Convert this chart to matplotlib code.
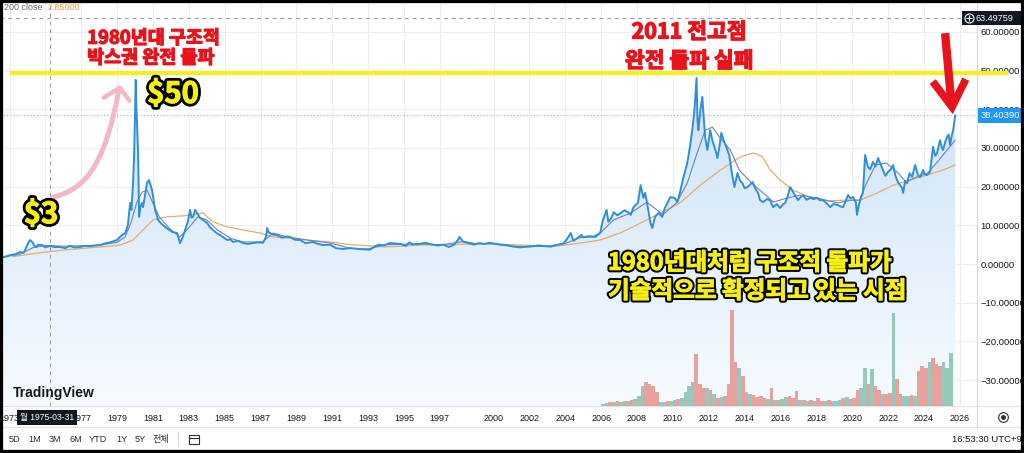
import numpy as np
import matplotlib.pyplot as plt
import matplotlib.patheffects as pe
from matplotlib.patches import Rectangle, Polygon, PathPatch
from matplotlib.path import Path
from matplotlib.colors import LinearSegmentedColormap

plt.rcParams['font.family'] = ['Liberation Sans', 'Noto Sans CJK KR', 'DejaVu Sans']
KR = ['Noto Sans CJK KR', 'DejaVu Sans']

# silver close (year, USD)
price_year = [1972.47, 1972.8, 1973.03, 1973.3, 1973.59, 1973.8, 1974.04, 1974.15, 1974.26, 1974.4,
              1974.48, 1974.6, 1974.82, 1975.0, 1975.26, 1975.5, 1975.82, 1976.1, 1976.38, 1976.6,
              1976.94, 1977.2, 1977.49, 1977.8, 1978.05, 1978.3, 1978.61, 1978.8, 1979.0, 1979.25,
              1979.45, 1979.6, 1979.73, 1979.8, 1979.89, 1979.95, 1980.04, 1980.08, 1980.12, 1980.17,
              1980.23, 1980.3, 1980.39, 1980.45, 1980.55, 1980.67, 1980.78, 1980.95, 1981.05, 1981.12,
              1981.29, 1981.45, 1981.68, 1981.85, 1982.07, 1982.35, 1982.51, 1982.65, 1982.79, 1982.95,
              1983.07, 1983.15, 1983.24, 1983.35, 1983.46, 1983.63, 1983.8, 1984.02, 1984.2, 1984.35,
              1984.55, 1984.74, 1984.95, 1985.14, 1985.3, 1985.47, 1985.75, 1986.03, 1986.3, 1986.58,
              1986.85, 1987.14, 1987.3, 1987.37, 1987.45, 1987.53, 1987.7, 1987.92, 1988.2, 1988.45,
              1988.65, 1988.9, 1989.21, 1989.5, 1989.93, 1990.2, 1990.5, 1990.88, 1991.2, 1991.6,
              1992.0, 1992.4, 1992.8, 1993.1, 1993.4, 1993.6, 1993.9, 1994.2, 1994.5, 1994.8,
              1995.1, 1995.3, 1995.5, 1995.9, 1996.2, 1996.5, 1996.9, 1997.2, 1997.5, 1997.8,
              1998.0, 1998.1, 1998.3, 1998.6, 1998.9, 1999.2, 1999.5, 1999.8, 2000.1, 2000.4,
              2000.8, 2001.1, 2001.5, 2001.9, 2002.2, 2002.5, 2002.9, 2003.2, 2003.5, 2003.9,
              2004.1, 2004.3, 2004.45, 2004.7, 2004.9, 2005.0, 2005.3, 2005.66, 2005.94, 2006.1,
              2006.3, 2006.4, 2006.55, 2006.7, 2006.9, 2007.1, 2007.3, 2007.5, 2007.65, 2007.8,
              2008.05, 2008.2, 2008.35, 2008.45, 2008.55, 2008.75, 2008.85, 2009.0, 2009.2, 2009.4,
              2009.55, 2009.7, 2009.85, 2010.1, 2010.25, 2010.4, 2010.55, 2010.8, 2010.95, 2011.1,
              2011.2, 2011.32, 2011.37, 2011.42, 2011.53, 2011.64, 2011.7, 2011.8, 2011.92, 2012.08,
              2012.2, 2012.3, 2012.42, 2012.48, 2012.6, 2012.7, 2012.87, 2013.04, 2013.15, 2013.26,
              2013.43, 2013.6, 2013.75, 2013.88, 2014.0, 2014.16, 2014.3, 2014.44, 2014.6, 2014.75,
              2014.86, 2015.03, 2015.25, 2015.42, 2015.59, 2015.8, 2015.98, 2016.1, 2016.26, 2016.4,
              2016.54, 2016.7, 2016.85, 2016.98, 2017.1, 2017.26, 2017.45, 2017.65, 2017.85, 2018.04,
              2018.2, 2018.38, 2018.6, 2018.77, 2018.95, 2019.16, 2019.35, 2019.49, 2019.65, 2019.77,
              2019.9, 2020.05, 2020.2, 2020.27, 2020.35, 2020.44, 2020.6, 2020.72, 2020.88, 2021.0,
              2021.16, 2021.3, 2021.44, 2021.6, 2021.72, 2021.85, 2022.0, 2022.15, 2022.28, 2022.4,
              2022.5, 2022.65, 2022.78, 2022.84, 2022.95, 2023.06, 2023.2, 2023.34, 2023.51, 2023.67,
              2023.8, 2023.95, 2024.05, 2024.18, 2024.34, 2024.51, 2024.62, 2024.73, 2024.9, 2025.0,
              2025.07, 2025.18, 2025.29, 2025.38, 2025.46, 2025.55, 2025.63, 2025.74]
price = [1.7, 1.9, 2.3, 2.5, 3.1, 2.9, 5.4, 6.2, 5.7, 4.7,
         4.4, 5.0, 4.9, 4.3, 4.7, 4.4, 4.4, 4.1, 4.7, 4.3,
         4.4, 4.7, 4.6, 4.8, 4.9, 5.3, 5.6, 5.9, 6.2, 7.4,
         8.0, 10.0, 15.8, 14.0, 20.9, 28.0, 47.6, 40.0, 35.4, 28.7,
         12.2, 14.8, 15.8, 14.7, 17.5, 21.0, 21.7, 19.1, 16.0, 14.0,
         11.4, 10.5, 9.6, 9.0, 8.3, 8.0, 5.4, 6.8, 8.8, 11.0,
         14.0, 12.0, 12.2, 14.0, 13.2, 11.9, 11.4, 10.6, 9.4, 8.8,
         8.0, 7.5, 6.8, 6.2, 6.4, 5.7, 6.0, 5.4, 5.2, 5.4,
         5.6, 5.5, 7.0, 9.3, 8.2, 8.0, 7.6, 7.5, 6.8, 7.1,
         7.0, 6.3, 6.2, 5.4, 5.7, 5.2, 4.9, 5.0, 4.1, 3.9,
         4.1, 3.9, 3.8, 3.7, 4.6, 5.0, 4.8, 5.4, 5.3, 5.2,
         4.7, 5.6, 5.1, 5.2, 5.5, 5.1, 4.8, 5.0, 4.4, 5.0,
         6.2, 7.0, 5.8, 5.4, 5.0, 5.4, 5.2, 5.5, 5.2, 5.0,
         4.8, 4.5, 4.3, 4.5, 4.6, 4.8, 4.6, 4.5, 4.9, 5.3,
         6.5, 8.0, 6.0, 6.8, 7.5, 6.9, 7.2, 7.0, 8.0, 11.4,
         14.0, 10.9, 11.8, 13.4, 12.6, 13.2, 13.9, 13.4, 12.7, 14.7,
         15.8, 20.4, 17.1, 18.4, 16.0, 10.6, 9.3, 12.2, 13.2, 12.2,
         14.5, 15.8, 17.3, 17.1, 16.0, 18.6, 21.7, 26.1, 30.3, 35.4,
         39.8, 48.1, 37.2, 34.6, 39.8, 43.2, 39.0, 32.8, 29.5, 34.6,
         32.0, 30.5, 28.7, 27.4, 30.5, 33.9, 31.5, 29.5, 28.0, 24.3,
         19.9, 23.5, 21.5, 20.9, 19.6, 19.9, 20.5, 21.2, 19.5, 18.4,
         16.5, 16.0, 16.8, 16.5, 14.7, 15.5, 14.5, 15.2, 15.8, 17.5,
         19.9, 18.6, 17.5, 16.5, 17.2, 17.8, 16.6, 17.1, 16.8, 17.1,
         16.5, 16.5, 15.6, 14.7, 15.5, 15.3, 14.9, 14.7, 16.5, 17.8,
         17.0, 17.3, 16.0, 12.7, 14.8, 16.5, 18.5, 28.2, 25.1, 24.5,
         26.4, 25.2, 27.4, 25.6, 24.3, 22.8, 23.8, 24.5, 25.6, 23.0,
         21.7, 20.5, 19.7, 18.4, 21.5, 20.9, 23.5, 22.5, 25.6, 23.0,
         22.5, 24.3, 23.2, 23.0, 23.8, 30.3, 28.0, 28.7, 32.0, 30.0,
         29.5, 31.5, 32.8, 33.5, 30.8, 33.2, 34.6, 38.4]

# fast moving average (blue)
ma_year = [1972.47, 1973.5, 1974.3, 1975.0, 1976.0, 1977.0, 1978.05, 1979.0, 1979.45, 1979.8,
           1980.1, 1980.4, 1980.67, 1981.35, 1981.9, 1982.5, 1982.9, 1983.5, 1984.0, 1984.6,
           1985.3, 1986.0, 1987.1, 1987.7, 1988.5, 1989.6, 1990.9, 1992.0, 1993.0, 1994.0,
           1995.0, 1996.0, 1997.0, 1998.3, 1999.0, 2000.0, 2001.0, 2002.0, 2003.0, 2004.0,
           2004.8, 2005.5, 2005.94, 2006.7, 2007.65, 2008.55, 2009.1, 2009.43, 2010.2, 2010.8,
           2011.35, 2011.8, 2012.2, 2012.6, 2013.2, 2013.7, 2014.4, 2015.3, 2015.6, 2016.4,
           2017.1, 2018.0, 2019.2, 2019.9, 2020.4, 2020.8, 2021.3, 2021.9, 2022.5, 2023.0,
           2023.6, 2024.2, 2024.7, 2025.3, 2025.74]
ma = [1.8, 2.4, 4.2, 4.8, 4.6, 4.7, 4.9, 5.6, 7.0, 11.0,
      16.0, 18.6, 19.1, 12.2, 9.3, 7.0, 8.8, 12.2, 11.4, 8.8,
      6.7, 5.7, 5.7, 8.0, 7.0, 6.2, 5.4, 4.1, 3.9, 5.0,
      5.1, 5.2, 4.9, 5.8, 5.3, 5.2, 4.6, 4.5, 4.6, 5.3,
      6.8, 7.0, 8.0, 11.4, 13.2, 16.0, 14.0, 12.7, 15.8, 20.9,
      28.7, 34.6, 35.4, 32.8, 29.5, 24.3, 20.9, 17.3, 16.0, 17.1,
      17.8, 17.1, 15.8, 16.5, 16.5, 20.9, 25.6, 26.1, 23.8, 21.2,
      22.5, 23.5, 26.1, 29.5, 32.0]

# 200 close (orange)
ma200_year = [1973.2, 1974.5, 1976.0, 1977.5, 1978.6, 1979.17, 1979.89, 1980.45, 1981.0, 1981.8,
              1982.5, 1983.24, 1983.8, 1984.35, 1985.14, 1986.03, 1986.97, 1987.7, 1988.5, 1989.6,
              1990.9, 1992.0, 1994.0, 1996.0, 1998.0, 2000.0, 2002.0, 2003.5, 2004.82, 2005.94,
              2007.05, 2008.2, 2009.3, 2010.4, 2011.53, 2012.65, 2013.76, 2014.5, 2015.0, 2015.4,
              2015.98, 2016.7, 2017.65, 2018.6, 2019.5, 2020.44, 2021.4, 2022.3, 2023.2, 2024.18,
              2025.07, 2025.74]
ma200 = [1.9, 2.8, 3.6, 4.2, 4.6, 4.9, 6.2, 8.8, 11.4, 12.2,
         12.4, 12.7, 13.2, 10.9, 9.6, 8.8, 8.0, 7.0, 6.7, 6.2,
         5.7, 5.0, 4.4, 4.9, 5.1, 5.2, 4.8, 4.6, 5.4, 6.2,
         8.0, 10.6, 13.2, 15.8, 20.4, 24.3, 27.7, 28.7, 27.7, 24.5,
         21.7, 19.1, 17.3, 16.3, 16.5, 16.5, 18.4, 20.4, 21.7, 23.0,
         24.3, 25.6]

# volume, one bar every 0.2 year from 2006.1 (relative units)
vol_start, vol_step = 2006.1, 0.2
vol = [2, 3, 4, 4, 5,    4, 5, 5, 6, 7,      10, 20, 24, 22, 20,   14, 4, 4, 5, 5,
       6, 7, 8, 14, 20,  24, 52, 22, 18, 18, 16, 12, 8, 9, 10,    22, 96, 44, 38, 30,
       14, 12, 11, 9, 10, 8, 7, 18, 6, 6,    7, 9, 10, 8, 15,      6, 6, 5, 6, 5,
       8, 5, 5, 6, 5,    5, 6, 8, 9, 7,      8, 16, 18, 38, 22,    37, 20, 16, 12, 12,
       13, 93, 27, 12, 10, 10, 11, 10, 35, 40, 38, 44, 48, 42, 40,  44, 38, 53]
vol_dir = ("uudud" "ududu" "uuddd" "duudu" "uduuu" "udddu" "dudud" "dddud" "duddd" "dudud"
           "uuddd" "ududu" "ddudu" "uudud" "dduud" "uddud" "duddu" "ududd" "duddd" "uuu")

year_ticks = [1973, 1975, 1977, 1979, 1981, 1983, 1985, 1987, 1989, 1991, 1993, 1995, 1997,
              2000, 2002, 2004, 2006, 2008, 2010, 2012, 2014, 2016, 2018, 2020, 2022, 2024, 2026]
price_ticks = [-30, -20, -10, 0, 10, 20, 30, 40, 50, 60]
last_price = 38.40390
cross_price = 63.49759
cross_date = 1975.25
box_level = 49.4

W, H = 1024, 453
fig = plt.figure(figsize=(W / 100, H / 100), dpi=100)
fig.patch.set_facecolor('white')


def fx(px):
    return px / W


def fy(py):
    return 1 - py / H


x0, x1 = 1972.47, 2026.96
y0, y1 = -36.72, 68.27
rect = [0, fy(406), fx(977), 406 / H]

ax = fig.add_axes(rect)
ax.set_zorder(1)

# volume pane drawn over the price fill
vax = fig.add_axes(rect)
vax.set_zorder(2)
colors = ['#7fbcab' if d == 'u' else '#e48c86' for d in vol_dir]
vx = [vol_start + vol_step * i for i in range(len(vol))]
vax.bar(vx, vol, width=vol_step, color=colors, align='center', lw=0, alpha=0.8)
vax.set_xlim(x0, x1)
vax.set_ylim(0, 406)
vax.axis('off')

# gradient area under the price
cmap = LinearSegmentedColormap.from_list('fill', ['#f7fbff', '#cce2f6'])
img = ax.imshow(np.linspace(0, 1, 256).reshape(-1, 1), cmap=cmap, origin='lower',
                aspect='auto', extent=[x0, x1, y0, 48], zorder=1)
poly = Polygon(np.column_stack([[price_year[0]] + price_year + [price_year[-1]],
                                [y0] + price + [y0]]), closed=True, fc='none', ec='none')
ax.add_patch(poly)
img.set_clip_path(poly)

ax.plot(ma200_year, ma200, color='#e3ad6c', lw=0.9, zorder=3)
ax.plot(ma_year, ma, color='#6a82c6', lw=0.8, zorder=3)
ax.plot(price_year, price, color='#2e8fd8', lw=1.4, zorder=4)

ax.axhline(last_price, color='#7fb2e5', lw=0.8, ls=(0, (1, 2)), zorder=2)
ax.axhline(cross_price, color='#9598a1', lw=0.7, ls=(0, (4, 4)), zorder=2)
ax.axvline(cross_date, color='#9598a1', lw=0.7, ls=(0, (4, 4)), zorder=2)

ax.set_xlim(x0, x1)
ax.set_ylim(y0, y1)
ax.set_xticks(year_ticks)
# 1975 sits under the crosshair date tooltip
ax.set_xticklabels(['' if y == 1975 else str(y) for y in year_ticks])
ax.yaxis.tick_right()
ax.set_yticks(price_ticks)
ax.set_yticklabels([f'{v:.5f}'.replace('-', '\u2212') for v in price_ticks])
ax.tick_params(axis='y', length=0, pad=2.5, labelsize=6.8, labelcolor='#131722')
ax.tick_params(axis='x', length=0, pad=5.5, labelsize=6.5, labelcolor='#131722')
ax.grid(True, color='#eceef3', lw=0.8)
ax.set_axisbelow(True)
for s in ['left', 'top']:
    ax.spines[s].set_visible(False)
ax.spines['right'].set_color('#d6d9e0')
ax.spines['bottom'].set_color('#e0e3eb')
ax.spines['right'].set_linewidth(0.8)
ax.spines['bottom'].set_linewidth(0.8)

# yellow box-top line and annotations
ax.plot([1973.03, 2028.69], [box_level, box_level], color='#f7ef1b', lw=3.0,
        clip_on=False, zorder=6, solid_capstyle='butt')

red = '#e8131b'
thick_red = [pe.withStroke(linewidth=0.9, foreground=red)]
ax.text(1977.33, 58.4, '1980년대 구조적', family=KR, weight='bold', color=red,
        fontsize=13.3, ha='left', va='center', path_effects=thick_red, zorder=7)
ax.text(1977.33, 53.3, '박스권 완전 돌파', family=KR, weight='bold', color=red,
        fontsize=13.3, ha='left', va='center', path_effects=thick_red, zorder=7)
ax.text(2010.9, 60.0, '2011 전고점', family=KR, weight='bold', color=red,
        fontsize=15.5, ha='center', va='center', path_effects=thick_red, zorder=7)
ax.text(2010.9, 52.5, '완전 돌파 실패', family=KR, weight='bold', color=red,
        fontsize=15.5, ha='center', va='center', path_effects=thick_red, zorder=7)

yel = '#f5ef12'
outline = [pe.Stroke(linewidth=4.8, foreground='black'),
           pe.Stroke(linewidth=0.8, foreground=yel), pe.Normal()]
ax.text(1982.12, 44.0, '$50', family=KR, weight='bold', color=yel, fontsize=21,
        ha='center', va='center', path_effects=outline, zorder=7)
ax.text(1974.76, 12.9, '$3', family=KR, weight='bold', color=yel, fontsize=21,
        ha='center', va='center', path_effects=outline, zorder=7)
outline2 = [pe.Stroke(linewidth=3.6, foreground='black'),
            pe.Stroke(linewidth=0.7, foreground=yel), pe.Normal()]
ax.text(2006.38, 0.3, '1980년대처럼 구조적 돌파가', family=KR, weight='bold', color=yel,
        fontsize=17, ha='left', va='center', path_effects=outline2, zorder=7)
ax.text(2006.38, -7.0, '기술적으로 확정되고 있는 시점', family=KR, weight='bold', color=yel,
        fontsize=17, ha='left', va='center', path_effects=outline2, zorder=7)

# pink hand-drawn arrow
pink = '#f5b6c6'
curve = Path([(1975.43, 17.3), (1977.5, 19.5), (1978.4, 28.0), (1979.1, 45.0)],
             [Path.MOVETO, Path.CURVE4, Path.CURVE4, Path.CURVE4])
ax.add_patch(PathPatch(curve, fc='none', ec=pink, lw=3.6, capstyle='round', zorder=5))
ax.plot([1978.25, 1979.15, 1979.7], [43.0, 45.6, 42.2], color=pink, lw=3.2,
        solid_capstyle='round', solid_joinstyle='round', zorder=5)

# red arrow at the right
ax.plot([2025.18, 2025.51], [59.7, 42.6], color=red, lw=6.0, solid_capstyle='butt',
        clip_on=False, zorder=8)
ax.plot([2024.62, 2025.57, 2026.24], [46.4, 40.6, 46.9], color=red, lw=5.5,
        solid_joinstyle='miter', clip_on=False, zorder=8)

# right-axis value labels
ytr = ax.get_yaxis_transform()
ax.text(980.5 / 977, last_price, f'{last_price:.5f}', transform=ytr, color='white',
        fontsize=6.8, ha='left', va='center', clip_on=False, zorder=9,
        bbox=dict(boxstyle='square,pad=0.28', fc='#2196f3', ec='none'))
ax.add_patch(Rectangle((962 / 977, cross_price - 1.8), 59 / 977, 3.6, transform=ytr,
                       fc='#131722', ec='none', clip_on=False, zorder=9))
ax.plot([968.5 / 977], [cross_price], transform=ytr, marker='o', ms=6.5, mfc='none',
        mec='white', mew=0.8, clip_on=False, zorder=10)
ax.plot([968.5 / 977], [cross_price], transform=ytr, marker='+', ms=4, mec='white',
        mew=0.8, clip_on=False, zorder=10)
ax.text(976 / 977, cross_price, f'{cross_price:.5f}', transform=ytr, color='white',
        fontsize=6.6, ha='left', va='center', clip_on=False, zorder=10)

# top-left legend
fig.text(fx(4), fy(7), '200 close', color='#6a6d78', fontsize=6.5, va='center')
fig.text(fx(48), fy(7), '2.85000', color='#e8a33c', fontsize=6.5, va='center')

# frame lines of the widget
fig.add_artist(plt.Line2D([0, 1], [fy(406), fy(406)], color='#e0e3eb', lw=0.8))
fig.add_artist(plt.Line2D([0, 1], [fy(426.5), fy(426.5)], color='#e0e3eb', lw=0.8))
fig.add_artist(plt.Line2D([fx(977), fx(977)], [fy(406), fy(426.5)], color='#d6d9e0', lw=0.8))
fig.add_artist(plt.Line2D([fx(178), fx(178)], [fy(432), fy(446)], color='#d6d9e0', lw=0.8))

# crosshair date tooltip
fig.text(fx(20), fy(417.5), '월 1975-03-31', color='white', fontsize=6.2, va='center',
         bbox=dict(boxstyle='square,pad=0.35', fc='#131722', ec='none'), zorder=20)

# TradingView mark
fig.add_artist(Polygon([(fx(0), fy(398)), (fx(4), fy(387)), (fx(9), fy(387)), (fx(5), fy(398))],
                       closed=True, fc='#131722', ec='none', transform=fig.transFigure))
fig.text(fx(13), fy(392.5), 'TradingView', color='#131722', fontsize=10, weight='bold',
         va='center')

# bottom toolbar
for lab, px in [('5D', 9), ('1M', 28), ('3M', 49), ('6M', 69), ('YTD', 89), ('1Y', 116),
                ('5Y', 135), ('전체', 153)]:
    fig.text(fx(px), fy(439.5), lab, color='#2a2e39', fontsize=6.6, va='center')
fig.add_artist(Rectangle((fx(189), fy(444)), fx(10), 9 / H, fill=False, ec='#2a2e39', lw=0.8,
                         transform=fig.transFigure))
fig.add_artist(plt.Line2D([fx(189), fx(199)], [fy(437.5), fy(437.5)], color='#2a2e39', lw=0.8))
fig.text(fx(952), fy(440), '16:53:30 UTC+9', color='#131722', fontsize=6.8, va='center')
fig.add_artist(plt.Line2D([fx(1003)], [fy(417)], marker='o', ms=7, mfc='none', mec='#2a2e39',
                          mew=0.8))
fig.add_artist(plt.Line2D([fx(1003)], [fy(417)], marker='o', ms=2.5, mfc='#2a2e39',
                          mec='#2a2e39'))

# black picture frame
fig.add_artist(Rectangle((0, 0), 1, 1, transform=fig.transFigure, fill=False, ec='black',
                         lw=4.5, zorder=100))

fig.savefig('out.png', dpi=100)
